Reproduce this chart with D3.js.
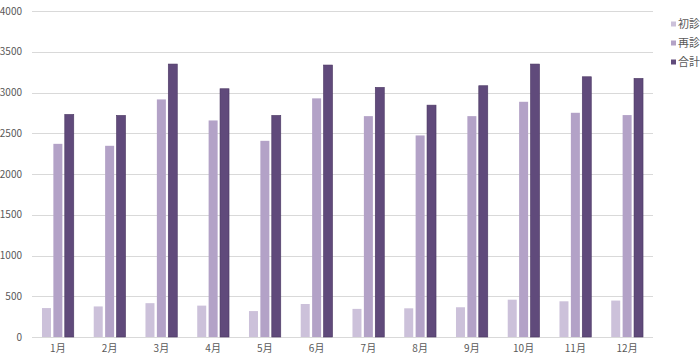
<!DOCTYPE html>
<html>
<head>
<meta charset="utf-8">
<script src="https://cdn.jsdelivr.net/npm/d3@7"></script>
<style>
	body { margin: 0; background: #fff; overflow: hidden; }
	svg { display: block; font-family: "Noto Sans CJK JP", "Noto Sans", sans-serif; }
</style>
</head>
<body>
<svg id="chart" width="700" height="360"></svg>
<script>
const months = ["1月", "2月", "3月", "4月", "5月", "6月", "7月", "8月", "9月", "10月", "11月", "12月"];
const seriesNames = ["初診", "再診", "合計"];
const shoshin = [355, 375, 415, 385, 318, 405, 345, 352, 365, 458, 438, 447];
const saishin = [2370, 2346, 2915, 2657, 2407, 2928, 2710, 2473, 2710, 2886, 2751, 2723];
const goukei = [2731, 2719, 3349, 3046, 2719, 3337, 3063, 2845, 3083, 3349, 3193, 3173];
const yTicks = [0, 500, 1000, 1500, 2000, 2500, 3000, 3500, 4000];
const colors = ["#ccc1da", "#b3a2c7", "#604a7b"];

const svg = d3.select("#chart");
const plot = { left: 32, right: 653, top: 11, bottom: 337 };

const x = d3.scaleBand().domain(months).range([plot.left, plot.right]);
const y = d3.scaleLinear().domain([0, 4000]).range([plot.bottom, plot.top]);

// gridlines
svg.append("g")
	.selectAll("line")
	.data(yTicks)
	.join("line")
	.attr("x1", plot.left)
	.attr("x2", plot.right)
	.attr("y1", (d) => Math.round(y(d)) + 0.5)
	.attr("y2", (d) => Math.round(y(d)) + 0.5)
	.attr("stroke", "#d9d9d9")
	.attr("stroke-width", 1);

// y labels
svg.append("g")
	.selectAll("text")
	.data(yTicks)
	.join("text")
	.attr("x", 22)
	.attr("y", (d) => y(d))
	.attr("dy", "0.35em")
	.attr("text-anchor", "end")
	.attr("font-size", 10)
	.attr("fill", "#595959")
	.text((d) => d);

// bars
const barW = 9;
const gap = 2.4;
const groupW = barW * 3 + gap * 2;
const series = [shoshin, saishin, goukei];

series.forEach((vals, si) => {
	svg.append("g")
		.selectAll("rect")
		.data(months)
		.join("rect")
		.attr("x", (m) => x(m) + x.bandwidth() / 2 - groupW / 2 + si * (barW + gap))
		.attr("y", (m, i) => y(vals[i]))
		.attr("width", barW)
		.attr("height", (m, i) => y(0) - y(vals[i]))
		.attr("fill", colors[si])
		.attr("stroke", si === 2 ? "#4b3763" : "none")
		.attr("stroke-width", 0.6);
});

// x axis labels
svg.append("g")
	.selectAll("text")
	.data(months)
	.join("text")
	.attr("x", (m) => x(m) + x.bandwidth() / 2)
	.attr("y", 352)
	.attr("text-anchor", "middle")
	.attr("font-size", 10)
	.attr("fill", "#595959")
	.text((m) => m);

// legend
const legendY = [24, 43, 62];
const legend = svg.append("g")
	.selectAll("g")
	.data(seriesNames)
	.join("g")
	.attr("transform", (d, i) => `translate(671,${legendY[i]})`);

legend.append("rect")
	.attr("x", 0)
	.attr("y", -2.5)
	.attr("width", 5)
	.attr("height", 5)
	.attr("fill", (d, i) => colors[i]);

legend.append("text")
	.attr("x", 7)
	.attr("dy", "0.35em")
	.attr("font-size", 11)
	.attr("fill", "#595959")
	.text((d) => d);
</script>
</body>
</html>
